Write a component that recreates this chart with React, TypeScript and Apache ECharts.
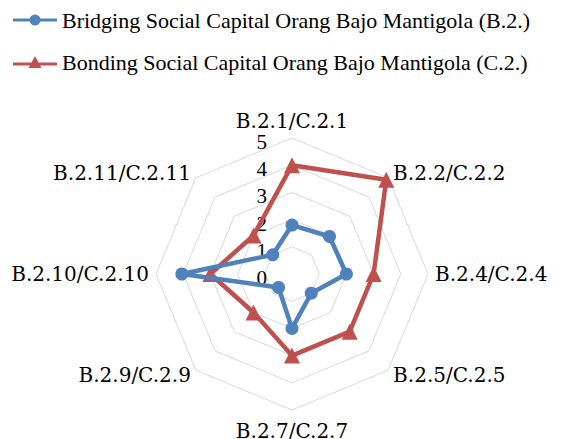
import React, { useEffect, useRef } from "react";
import * as echarts from "echarts";

// Indicators, listed clockwise from the top
const categories = [
  "B.2.1/C.2.1",
  "B.2.2/C.2.2",
  "B.2.4/C.2.4",
  "B.2.5/C.2.5",
  "B.2.7/C.2.7",
  "B.2.9/C.2.9",
  "B.2.10/C.2.10",
  "B.2.11/C.2.11",
];
const bridging = [1.8, 1.95, 2.0, 1.0, 2.0, 0.7, 4.05, 1.0];
const bonding = [4.0, 4.9, 3.0, 3.0, 3.0, 2.0, 3.0, 2.0];
const seriesNames = [
  "Bridging Social Capital Orang Bajo Mantigola (B.2.)",
  "Bonding Social Capital Orang Bajo Mantigola (C.2.)",
];
const tickValues = [0, 1, 2, 3, 4, 5];

const serif = "'Liberation Serif', 'Times New Roman', Times, serif";

// ECharts places radar indicators counter-clockwise: reorder
const ccw = <T,>(arr: T[]): T[] => [arr[0], ...arr.slice(1).reverse()];

// legend icons: line with circle / triangle marker
const iconCircle =
  "path://M0,5.5L44,5.5L44,8.5L0,8.5Z M16.5,7A5.5,5.5 0 1,1 27.5,7A5.5,5.5 0 1,1 16.5,7Z";
const iconTriangle = "path://M0,7.5L44,7.5L44,10.5L0,10.5Z M22,1L28.5,13L15.5,13Z";

export default function App() {
  const ref = useRef<HTMLDivElement>(null);
  useEffect(() => {
    if (!ref.current) return;
    const chart = echarts.init(ref.current, null, { renderer: "svg" });
    const minV = tickValues[0];
    const maxV = tickValues[tickValues.length - 1];
    const center = [292, 274];
    const radius = 136;
    chart.setOption({
      animation: false,
      backgroundColor: "#ffffff",
      legend: {
        orient: "vertical",
        left: 8,
        top: 4,
        itemWidth: 44,
        itemHeight: 13,
        itemGap: 20,
        textStyle: {
          fontFamily: serif,
          fontSize: 22,
          color: "#000",
        },
        data: [
          { name: seriesNames[0], icon: iconCircle },
          { name: seriesNames[1], icon: iconTriangle },
        ],
      },
      polar: { center, radius },
      angleAxis: { show: false, startAngle: 90, min: 0, max: 360 },
      radiusAxis: {
        type: "value",
        min: minV,
        max: maxV,
        interval: 1,
        axisLine: { show: false },
        axisTick: { show: false },
        splitLine: { show: false },
        axisLabel: {
          margin: 25,
          fontFamily: serif,
          fontSize: 21,
          color: "#000",
          verticalAlign: "top",
          lineHeight: 8,
        },
        z: 1,
      },
      radar: {
        center,
        radius,
        startAngle: 90,
        shape: "polygon",
        splitNumber: tickValues.length - 1,
        nameGap: 7,
        axisName: {
          color: "#000",
          fontFamily: "'DejaVu Serif', serif",
          fontSize: 20,
          padding: [4, 0, 0, 0],
        },
        axisLine: { show: false },
        axisTick: { show: false },
        splitArea: { show: false },
        splitLine: { lineStyle: { color: "#D9D9D9", width: 1 } },
        indicator: ccw(categories).map((name) => ({ name, min: minV, max: maxV })),
      },
      series: [
        {
          type: "radar",
          name: seriesNames[0],
          z: 3,
          symbol: "circle",
          symbolSize: 13,
          lineStyle: { color: "#4F81BD", width: 4.5 },
          itemStyle: { color: "#4F81BD" },
          data: [{ name: seriesNames[0], value: ccw(bridging) }],
        },
        {
          type: "radar",
          name: seriesNames[1],
          z: 2,
          symbol: "triangle",
          symbolSize: 16,
          lineStyle: { color: "#C0504D", width: 4.5 },
          itemStyle: { color: "#C0504D" },
          data: [{ name: seriesNames[1], value: ccw(bonding) }],
        },
      ],
    });
    return () => chart.dispose();
  }, []);
  return (
    <div
      ref={ref}
      style={{ position: "absolute", left: 0, top: 0, width: 575, height: 439, background: "#fff" }}
    />
  );
}
